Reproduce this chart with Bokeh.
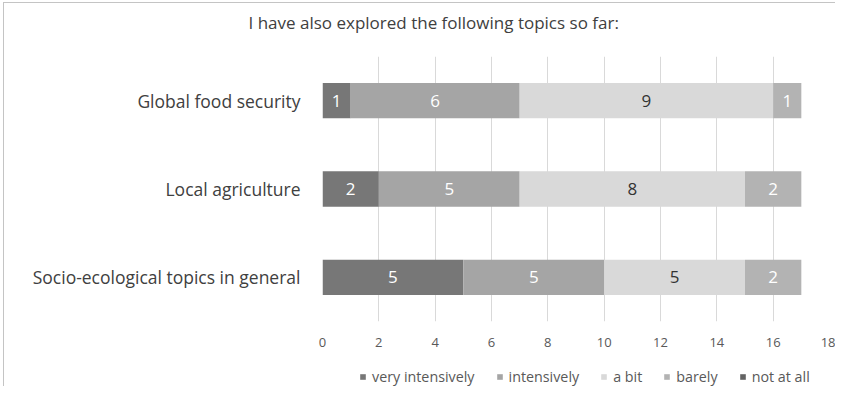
import numpy as np
from bokeh.plotting import figure
from bokeh.layouts import column
from bokeh.models import (FactorRange, Range1d, Legend, LegendItem, ColumnDataSource, FixedTicker,
                          InlineStyleSheet, Title)
from bokeh.core.properties import value
from bokeh.embed import file_html
from bokeh.resources import INLINE

# ---- data ----
categories = ["Global food security", "Local agriculture", "Socio-ecological topics in general"]
series = ["very intensively", "intensively", "a bit", "barely", "not at all"]
very_intensively = [1, 2, 5]
intensively = [6, 5, 5]
a_bit = [9, 8, 5]
barely = [1, 2, 2]
not_at_all = [0, 0, 0]
x_ticks = [0, 2, 4, 6, 8, 10, 12, 14, 16, 18]
title_text = "I have also explored the following topics so far:"

colors = ["#777777", "#a5a5a5", "#d9d9d9", "#b3b3b3", "#636363"]
label_colors = ["#ffffff", "#ffffff", "#333333", "#ffffff", "#ffffff"]
FONT = "Open Sans"

values = [very_intensively, intensively, a_bit, barely, not_at_all]

p = figure(width=835, height=352, output_backend="svg", toolbar_location=None,
           y_range=FactorRange(factors=list(reversed(categories)), range_padding=0),
           x_range=(0, 18), title=None,
           min_border_left=322, min_border_right=6, min_border_top=56, min_border_bottom=31)
p.outline_line_color = None

# spacer (closest to the frame), then the chart title
p.add_layout(Title(text=" ", text_font_size="14px", standoff=5), "above")
p.add_layout(Title(text=title_text, align="left", offset=-74, standoff=0,
                   text_font=FONT, text_font_size="17px", text_font_style="normal",
                   text_color="#404040"), "above")

p.ygrid.grid_line_color = None
p.xgrid.grid_line_color = "#d9d9d9"
p.xgrid.grid_line_width = 1

p.xaxis.ticker = FixedTicker(ticks=x_ticks)
p.xaxis.axis_line_color = None
p.xaxis.major_tick_line_color = None
p.xaxis.minor_tick_line_color = None
p.xaxis.major_label_text_font = FONT
p.xaxis.major_label_text_font_size = "13px"
p.xaxis.major_label_text_color = "#595959"
p.xaxis.major_label_standoff = 10

p.yaxis.axis_line_color = None
p.yaxis.major_tick_line_color = None
p.yaxis.minor_tick_line_color = None
p.yaxis.major_label_text_font = FONT
p.yaxis.major_label_text_font_size = "17.5px"
p.yaxis.major_label_text_color = "#404040"
p.yaxis.major_label_standoff = 16

# legend strip below the chart (key glyphs share the chart's data, drawn with zero height)
lf = figure(width=835, height=34, output_backend="svg", toolbar_location=None,
            x_range=Range1d(-2, -1), y_range=FactorRange(factors=list(reversed(categories))),
            min_border=0)
lf.axis.visible = False
lf.grid.visible = False
lf.outline_line_color = None

left = np.zeros(len(categories))
legend_items = []
for name, vals, col, lcol in zip(series, values, colors, label_colors):
    vals = np.array(vals, dtype=float)
    right = left + vals
    src = ColumnDataSource(dict(y=categories, left=left, right=right))
    p.hbar(y="y", left="left", right="right", height=0.4, source=src,
           fill_color=col, line_color=None)
    key = lf.hbar(y="y", left="left", right="right", height=0, source=src,
                  fill_color=col, line_color=None)
    legend_items.append(LegendItem(label=name, renderers=[key]))
    mask = vals > 0
    tsrc = ColumnDataSource(dict(
        y=[c for c, m in zip(categories, mask) if m],
        x=((left + right) / 2)[mask],
        t=[str(int(v)) for v in vals[mask]]))
    p.text(x="x", y="y", text="t", source=tsrc, text_align="center", text_baseline="middle",
           text_font=value(FONT), text_font_size="17px", text_color=lcol)
    left = right

legend = Legend(items=legend_items, orientation="horizontal", location=(37, 0),
                glyph_width=7, glyph_height=7, label_standoff=6, spacing=21,
                padding=0, margin=0, border_line_color=None, background_fill_alpha=0,
                label_text_font=FONT, label_text_font_size="14.3px", label_text_color="#595959",
                label_height=14)
lf.add_layout(legend, "center")

for fig, css in ((p, "linear-gradient(#c4c4c4,#c4c4c4) 3px 2px / 1px 100% no-repeat, "
                     "linear-gradient(#c4c4c4,#c4c4c4) 3px 2px / 100% 1px no-repeat, #ffffff"),
                 (lf, "linear-gradient(#c4c4c4,#c4c4c4) 3px 0px / 1px 100% no-repeat, #ffffff")):
    fig.border_fill_alpha = 0
    fig.stylesheets = [InlineStyleSheet(css=":host { background: %s; }" % css)]

layout = column(p, lf, spacing=0)
open("out.html", "w").write(file_html(layout, INLINE))
